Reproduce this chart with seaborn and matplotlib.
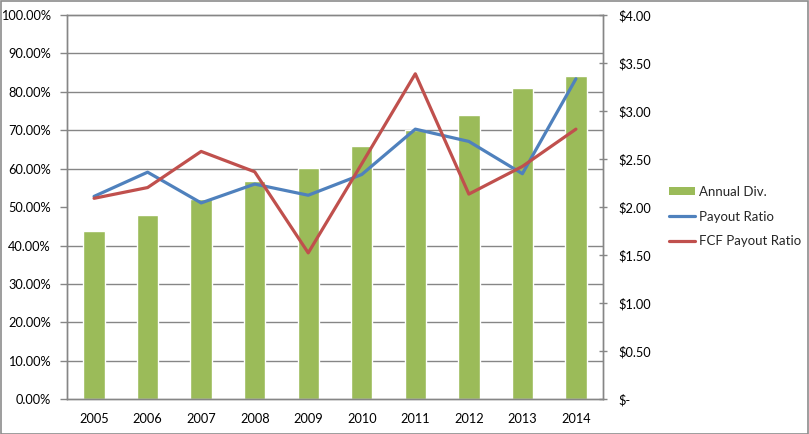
import numpy as np
import pandas as pd
import matplotlib
matplotlib.use("Agg")
import matplotlib.pyplot as plt
from matplotlib.ticker import MultipleLocator, FixedLocator, FuncFormatter
from matplotlib.patches import Patch, Rectangle
from matplotlib.lines import Line2D
import seaborn as sns

years = ['2005', '2006', '2007', '2008', '2009', '2010', '2011', '2012', '2013', '2014']
annual_div = [1.75, 1.92, 2.08, 2.27, 2.41, 2.64, 2.80, 2.96, 3.24, 3.37]
payout_ratio = [52.8, 59.1, 51.1, 56.0, 53.1, 58.5, 70.3, 67.1, 58.7, 83.4]
fcf_payout_ratio = [52.3, 55.1, 64.5, 59.2, 38.1, 61.3, 84.7, 53.4, 60.6, 70.3]

GREEN = '#9BBB59'
BLUE = '#4F81BD'
RED = '#C0504D'
GRID = '#868686'
TXT = '#000000'

sns.set_style('white')
plt.rcParams['font.family'] = ['Lato', 'DejaVu Sans']
plt.rcParams['font.size'] = 9.2

df = pd.DataFrame({'Year': years, 'pos': np.arange(len(years)),
                   'Annual Div.': annual_div,
                   'Payout Ratio': payout_ratio,
                   'FCF Payout Ratio': fcf_payout_ratio})

fig = plt.figure(figsize=(8.09, 4.34), dpi=100)
fig.patch.set_facecolor('white')
fig.patches.append(Rectangle((0.5 / 809, 0.5 / 434), 1 - 1.5 / 809, 1 - 1.5 / 434,
                             transform=fig.transFigure, fill=False,
                             edgecolor='#8c8c8c', linewidth=1.2))

W, H = 809, 434
left, right, top, bottom = 67.3, 602.7, 15.0, 399.3
ax = fig.add_axes([left / W, 1 - bottom / H, (right - left) / W, (bottom - top) / H])

# Bars (right $ scale) on the lower axes
sns.barplot(data=df, x='Year', y='Annual Div.', color=GREEN, saturation=1,
            width=0.4, ax=ax, zorder=2)
ax.set_ylim(0, 4)
ax.set_xlim(-0.5, len(years) - 0.5)
ax.set_xlabel('')
ax.set_ylabel('')

# Lines (left % scale) on twin axes
ax2 = ax.twinx()
sns.lineplot(data=df, x='pos', y='Payout Ratio', color=BLUE, linewidth=2.3, ax=ax2)
sns.lineplot(data=df, x='pos', y='FCF Payout Ratio', color=RED, linewidth=2.3, ax=ax2)
ax2.set_ylim(0, 100)
ax2.set_xlim(-0.5, len(years) - 0.5)
ax2.set_ylabel('')
ax2.set_xlabel('')
ax2.grid(False)

# swap sides: $ axis on right, % axis on left
ax.yaxis.tick_right()
ax.yaxis.set_label_position('right')
ax2.yaxis.tick_left()
ax2.yaxis.set_label_position('left')

ax.yaxis.set_major_locator(MultipleLocator(0.5))
ax.yaxis.set_major_formatter(FuncFormatter(lambda v, p: '$-' if abs(v) < 1e-9 else f'${v:.2f}'))
ax.yaxis.set_minor_locator(MultipleLocator(0.4))
ax.grid(False)
ax.grid(which='minor', axis='y', color=GRID, linewidth=1.0, zorder=0)
ax.set_axisbelow(True)
ax.tick_params(axis='y', which='major', direction='inout', length=6, width=1,
               color=GRID, pad=8, labelcolor=TXT, left=False, labelleft=False,
               right=True, labelright=True)
ax.tick_params(axis='y', which='minor', length=0, left=False, right=False)

ax.xaxis.set_minor_locator(FixedLocator(np.arange(-0.5, len(years), 1.0)))
ax.tick_params(axis='x', which='major', length=0, pad=10, labelcolor=TXT)
ax.tick_params(axis='x', which='minor', length=5, width=1, color=GRID, direction='out')

ax2.yaxis.set_major_locator(MultipleLocator(10))
ax2.yaxis.set_major_formatter(FuncFormatter(lambda v, p: f'{v:.2f}%'))
ax2.tick_params(axis='y', which='major', direction='out', length=5, width=1,
                color=GRID, pad=7, labelcolor=TXT, left=True, labelleft=True,
                right=False, labelright=False)
ax2.tick_params(axis='x', bottom=False, labelbottom=False)

for a in (ax, ax2):
    for s in a.spines.values():
        s.set_color(GRID)
        s.set_linewidth(1.0)

handles = [Patch(facecolor=GREEN, edgecolor='none'),
           Line2D([0], [0], color=BLUE, linewidth=2.3),
           Line2D([0], [0], color=RED, linewidth=2.3)]
labels = ['Annual Div.', 'Payout Ratio', 'FCF Payout Ratio']
fig.legend(handles, labels, loc='center left',
           bbox_to_anchor=(662 / W, 1 - 216.5 / H), frameon=False,
           borderpad=0, handlelength=2.0, handleheight=0.55, handletextpad=0.3,
           labelspacing=0.95, fontsize=9.5)

fig.savefig('out.png', dpi=100, facecolor='white')
